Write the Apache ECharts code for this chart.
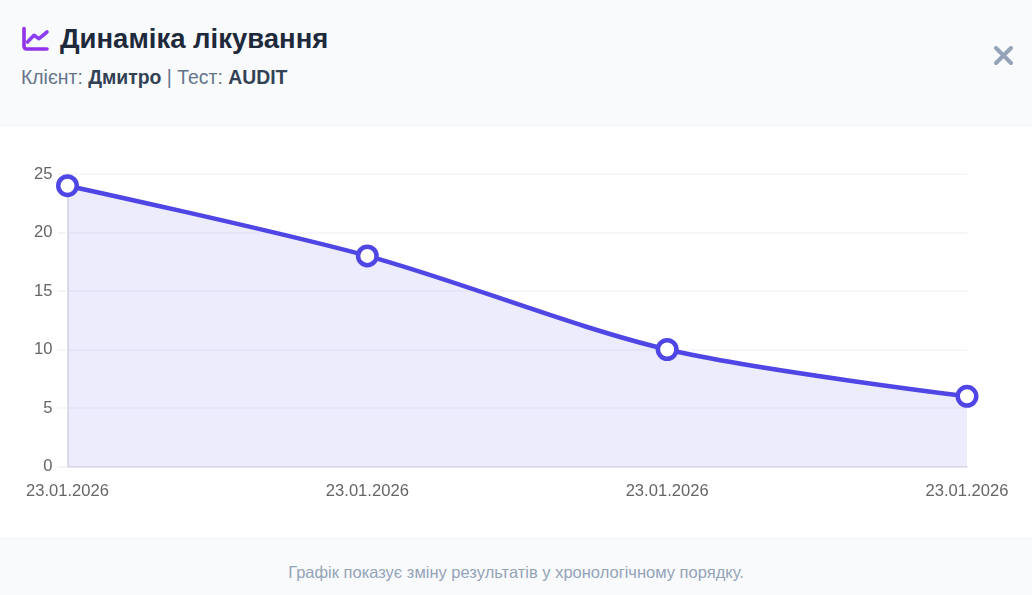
<!DOCTYPE html>
<html lang="uk">
<head>
<meta charset="utf-8">
<title>Динаміка лікування</title>
<script src="https://cdn.jsdelivr.net/npm/echarts@6/dist/echarts.min.js"></script>
<style>
    html, body { margin: 0; padding: 0; width: 1032px; height: 595px; overflow: hidden; background: #fff; font-family: "Liberation Sans", Arial, sans-serif; }
    .head { position: absolute; left: 0; top: 0; width: 1032px; height: 125px; background: #f8fafc; border-bottom: 1px solid #f1f5f9; }
    .head svg { position: absolute; left: 20px; top: 24px; }
    .title { position: absolute; left: 60px; top: 22px; font-size: 27.5px; line-height: 34px; font-weight: bold; color: #1e293b; white-space: nowrap; }
    .sub { position: absolute; left: 21px; top: 65px; font-size: 19.4px; line-height: 24px; color: #64748b; white-space: nowrap; }
    .sub b { color: #334155; }
    #main { position: absolute; left: 0; top: 126px; width: 1032px; height: 412px; }
    .foot { position: absolute; left: 0; top: 538px; width: 1032px; height: 57px; background: #f8fafc; border-top: 1px solid #f1f5f9; text-align: center; font-size: 16.5px; line-height: 66px; color: #94a3b8; }
</style>
</head>
<body>
<div class="head">
    <svg width="32" height="30" viewBox="0 0 32 30" fill="none">
        <path d="M4 4.5 V22 Q4 25 7 25 H27" stroke="#9333ea" stroke-width="3.6" stroke-linecap="round" stroke-linejoin="round"/>
        <path d="M7.5 18 L14 11.3 L19 14.7 L27 8" stroke="#8b3ff0" stroke-width="3.6" stroke-linecap="round" stroke-linejoin="round"/>
    </svg>
    <div class="title">Динаміка лікування</div>
    <div class="sub">Клієнт: <b>Дмитро</b> | Тест: <b>AUDIT</b></div>
    <svg style="left:993px;top:45px" width="21" height="21" viewBox="0 0 21 21"><path d="M3 3 L18 18 M18 3 L3 18" stroke="#94a3b8" stroke-width="4" stroke-linecap="round"/></svg>
</div>
<div id="main"></div>
<div class="foot">Графік показує зміну результатів у хронологічному порядку.</div>

<script type="text/javascript">
    var dates = ['23.01.2026', '23.01.2026', '23.01.2026', '23.01.2026'];
    var scores = [24, 18, 10, 6];
    var yTicks = { min: 0, max: 25, interval: 5 };

    var myChart = echarts.init(document.getElementById('main'));

    var option = {
        animation: false,
        grid: { left: 67.5, right: 65, top: 48, bottom: 71.5 },
        xAxis: {
            type: 'category',
            data: dates,
            boundaryGap: false,
            axisLine: { lineStyle: { color: '#dcdce6', width: 1.5 } },
            axisTick: { show: false },
            axisLabel: { color: '#666666', fontSize: 16.6, margin: 16, interval: 0, fontFamily: 'Liberation Sans', hideOverlap: false },
            splitLine: { show: false }
        },
        yAxis: {
            type: 'value',
            min: yTicks.min,
            max: yTicks.max,
            interval: yTicks.interval,
            axisLine: { show: true, lineStyle: { color: '#dcdce6', width: 1.5 } },
            axisTick: { show: true, length: 10, lineStyle: { color: '#f4f4f7', width: 1.5 } },
            axisLabel: { color: '#666666', fontSize: 16.6, margin: 15, fontFamily: 'Liberation Sans' },
            splitLine: { lineStyle: { color: '#f4f4f7', width: 1.5 } }
        },
        series: [{
            type: 'line',
            data: scores,
            smooth: 0.3,
            symbol: 'circle',
            symbolSize: 18.5,
            showSymbol: true,
            lineStyle: { color: '#4f46e5', width: 4.5 },
            itemStyle: { color: '#ffffff', borderColor: '#4f46e5', borderWidth: 4.5 },
            areaStyle: { color: 'rgba(79,70,229,0.1)', opacity: 1 }
        }]
    };

    option && myChart.setOption(option);
</script>
</body>
</html>
